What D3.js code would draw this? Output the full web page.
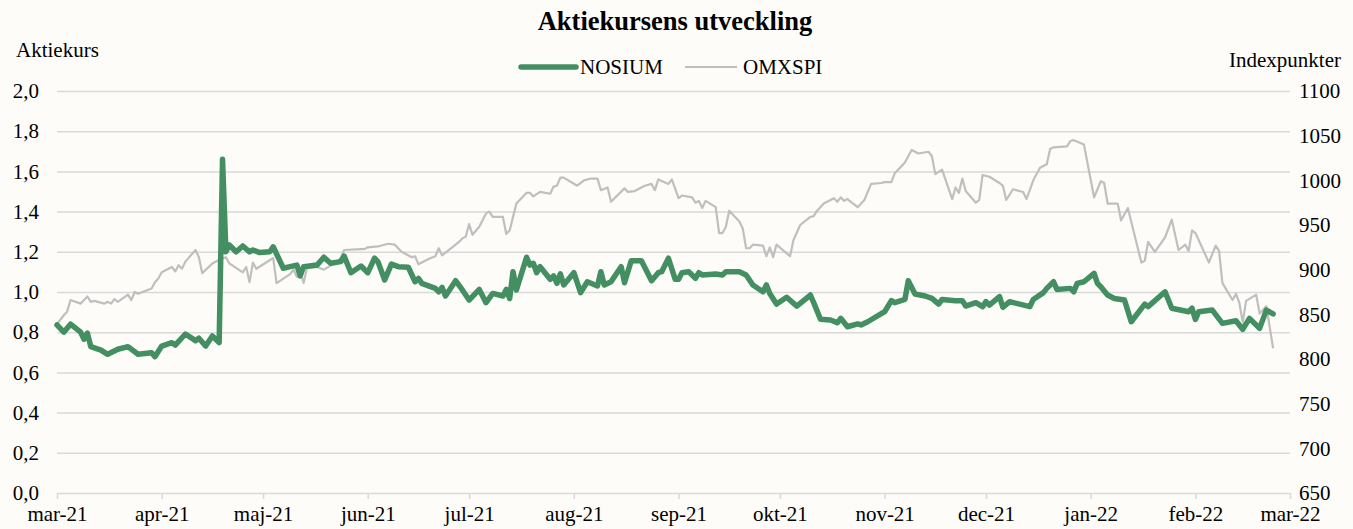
<!DOCTYPE html>
<html>
<head>
<meta charset="utf-8">
<script src="https://cdn.jsdelivr.net/npm/d3@7"></script>
<style>
  body { margin: 0; background: #fdfcf8; }
  svg text { font-family: "Liberation Serif", "Times New Roman", serif; fill: #000; }
</style>
</head>
<body>
<svg id="chart"></svg>
<script>
var svgWidth = 1353, svgHeight = 529;
var plotLeft = 57, plotRight = 1290, plotTop = 91, plotBottom = 493;

// x axis categories (month starts) and their labels
var monthStarts = ['2021-03-01', '2021-04-01', '2021-05-01', '2021-06-01', '2021-07-01', '2021-08-01',
  '2021-09-01', '2021-10-01', '2021-11-01', '2021-12-01', '2022-01-01', '2022-02-01', '2022-03-01'];
var monthLabels = ['mar-21', 'apr-21', 'maj-21', 'jun-21', 'jul-21', 'aug-21', 'sep-21',
  'okt-21', 'nov-21', 'dec-21', 'jan-22', 'feb-22', 'mar-22'];
var leftTicks = [0, 0.2, 0.4, 0.6, 0.8, 1.0, 1.2, 1.4, 1.6, 1.8, 2.0];
var rightTicks = [650, 700, 750, 800, 850, 900, 950, 1000, 1050, 1100];

// NOSIUM share price (left axis)
var nosiumDates = ['2021-03-01','2021-03-03','2021-03-05','2021-03-08','2021-03-09','2021-03-10','2021-03-11',
  '2021-03-14','2021-03-16','2021-03-19','2021-03-22','2021-03-25','2021-03-29','2021-03-30','2021-04-01',
  '2021-04-04','2021-04-05','2021-04-08','2021-04-11','2021-04-12','2021-04-14','2021-04-16','2021-04-18',
  '2021-04-19','2021-04-20','2021-04-21','2021-04-23','2021-04-25','2021-04-27','2021-04-28','2021-04-30',
  '2021-05-03','2021-05-04','2021-05-07','2021-05-09','2021-05-11','2021-05-12','2021-05-13','2021-05-17',
  '2021-05-19','2021-05-21','2021-05-24','2021-05-25','2021-05-27','2021-05-30','2021-06-01','2021-06-03',
  '2021-06-04','2021-06-06','2021-06-08','2021-06-10','2021-06-13','2021-06-15','2021-06-16','2021-06-17',
  '2021-06-21','2021-06-22','2021-06-23','2021-06-24','2021-06-27','2021-06-29','2021-07-01','2021-07-04',
  '2021-07-06','2021-07-08','2021-07-11','2021-07-12','2021-07-13','2021-07-14','2021-07-15','2021-07-18',
  '2021-07-19','2021-07-20','2021-07-21','2021-07-22','2021-07-25','2021-07-26','2021-07-27','2021-07-28',
  '2021-07-29','2021-08-01','2021-08-03','2021-08-05','2021-08-08','2021-08-09','2021-08-10','2021-08-12',
  '2021-08-15','2021-08-16','2021-08-18','2021-08-21','2021-08-24','2021-08-26','2021-08-27','2021-08-29',
  '2021-08-31','2021-09-01','2021-09-02','2021-09-04','2021-09-06','2021-09-07','2021-09-08','2021-09-12',
  '2021-09-14','2021-09-15','2021-09-19','2021-09-21','2021-09-23','2021-09-26','2021-09-27','2021-09-28',
  '2021-09-30','2021-10-03','2021-10-06','2021-10-10','2021-10-11','2021-10-13','2021-10-16','2021-10-18',
  '2021-10-19','2021-10-21','2021-10-24','2021-10-25','2021-10-27','2021-11-01','2021-11-03','2021-11-04',
  '2021-11-07','2021-11-08','2021-11-10','2021-11-13','2021-11-15','2021-11-17','2021-11-18','2021-11-22',
  '2021-11-24','2021-11-25','2021-11-28','2021-11-30','2021-12-01','2021-12-02','2021-12-05','2021-12-06',
  '2021-12-08','2021-12-14','2021-12-15','2021-12-18','2021-12-19','2021-12-21','2021-12-22','2021-12-26',
  '2021-12-27','2021-12-28','2021-12-30','2022-01-02','2022-01-03','2022-01-04','2022-01-06','2022-01-08',
  '2022-01-11','2022-01-13','2022-01-17','2022-01-18','2022-01-23','2022-01-25','2022-01-30','2022-01-31',
  '2022-02-01','2022-02-02','2022-02-06','2022-02-09','2022-02-13','2022-02-15','2022-02-17','2022-02-20',
  '2022-02-22','2022-02-24'];
var nosiumValues = [0.836,0.80,0.84,0.80,0.765,0.795,0.728,
  0.711,0.69,0.715,0.728,0.69,0.698,0.678,0.731,
  0.748,0.736,0.791,0.758,0.77,0.731,0.781,0.748,
  1.66,1.20,1.234,1.20,1.229,1.20,1.209,1.196,
  1.20,1.225,1.118,1.126,1.134,1.08,1.126,1.134,
  1.173,1.143,1.151,1.179,1.096,1.129,1.096,1.168,
  1.151,1.06,1.139,1.126,1.123,1.051,1.068,1.043,
  1.018,1.001,1.023,0.98,1.056,1.01,0.96,1.013,
  0.947,0.993,0.98,1.013,0.968,1.101,1.01,1.173,
  1.134,1.143,1.096,1.126,1.063,1.08,1.043,1.09,
  1.035,1.096,0.997,1.051,1.03,1.101,1.035,1.051,
  1.126,1.046,1.156,1.156,1.056,1.096,1.101,1.168,
  1.063,1.063,1.096,1.101,1.068,1.096,1.085,1.09,
  1.085,1.101,1.101,1.085,1.035,1.001,1.035,0.993,
  0.94,0.974,0.93,0.985,0.947,0.864,0.861,0.847,
  0.869,0.827,0.841,0.836,0.852,0.902,0.957,0.947,
  0.963,1.056,0.99,0.98,0.968,0.94,0.963,0.957,
  0.957,0.93,0.947,0.927,0.952,0.935,0.977,0.924,
  0.952,0.927,0.963,0.997,1.018,1.051,1.013,1.018,
  1.001,1.043,1.051,1.093,1.043,1.026,0.985,0.968,
  0.96,0.852,0.94,0.927,1.001,0.919,0.902,0.919,
  0.864,0.902,0.91,0.844,0.857,0.814,0.869,0.819,
  0.91,0.891];

// OMXSPI index points (right axis)
var omxDates = ['2021-03-01','2021-03-03','2021-03-04','2021-03-05','2021-03-08','2021-03-10','2021-03-11',
  '2021-03-12','2021-03-15','2021-03-16','2021-03-17','2021-03-18','2021-03-19','2021-03-22','2021-03-23',
  '2021-03-24','2021-03-25','2021-03-29','2021-03-30','2021-03-31','2021-04-01','2021-04-04','2021-04-05',
  '2021-04-06','2021-04-07','2021-04-08','2021-04-11','2021-04-12','2021-04-13','2021-04-16','2021-04-18',
  '2021-04-20','2021-04-21','2021-04-25','2021-04-26','2021-04-27','2021-04-28','2021-04-29','2021-05-04',
  '2021-05-05','2021-05-09','2021-05-10','2021-05-11','2021-05-12','2021-05-13','2021-05-14','2021-05-17',
  '2021-05-19','2021-05-23','2021-05-24','2021-05-25','2021-05-30','2021-05-31','2021-06-01','2021-06-04',
  '2021-06-07','2021-06-09','2021-06-11','2021-06-14','2021-06-15','2021-06-16','2021-06-19','2021-06-21',
  '2021-06-22','2021-06-23','2021-06-28','2021-06-29','2021-06-30','2021-07-01','2021-07-02','2021-07-04',
  '2021-07-06','2021-07-07','2021-07-08','2021-07-11','2021-07-12','2021-07-13','2021-07-15','2021-07-18',
  '2021-07-19','2021-07-20','2021-07-22','2021-07-25','2021-07-26','2021-07-27','2021-07-28','2021-07-29',
  '2021-08-02','2021-08-04','2021-08-06','2021-08-08','2021-08-09','2021-08-11','2021-08-12','2021-08-16',
  '2021-08-17','2021-08-19','2021-08-22','2021-08-24','2021-08-25','2021-08-26','2021-08-29','2021-08-30',
  '2021-09-01','2021-09-02','2021-09-05','2021-09-06','2021-09-07','2021-09-08','2021-09-09','2021-09-12',
  '2021-09-13','2021-09-14','2021-09-15','2021-09-16','2021-09-19','2021-09-20','2021-09-21','2021-09-22',
  '2021-09-23','2021-09-26','2021-09-27','2021-09-28','2021-09-29','2021-09-30','2021-10-04','2021-10-05',
  '2021-10-07','2021-10-10','2021-10-11','2021-10-12','2021-10-14','2021-10-17','2021-10-18','2021-10-19',
  '2021-10-20','2021-10-21','2021-10-24','2021-10-26','2021-10-28','2021-10-31','2021-11-01','2021-11-03',
  '2021-11-04','2021-11-07','2021-11-09','2021-11-11','2021-11-14','2021-11-15','2021-11-16','2021-11-18',
  '2021-11-21','2021-11-22','2021-11-23','2021-11-24','2021-11-25','2021-11-28','2021-11-29','2021-11-30',
  '2021-12-02','2021-12-05','2021-12-06','2021-12-07','2021-12-09','2021-12-12','2021-12-13','2021-12-15',
  '2021-12-17','2021-12-19','2021-12-20','2021-12-21','2021-12-25','2021-12-26','2021-12-27','2021-12-30',
  '2022-01-02','2022-01-04','2022-01-05','2022-01-06','2022-01-09','2022-01-10','2022-01-12','2022-01-16',
  '2022-01-17','2022-01-18','2022-01-20','2022-01-23','2022-01-25','2022-01-27','2022-01-29','2022-01-30',
  '2022-01-31','2022-02-01','2022-02-05','2022-02-07','2022-02-08','2022-02-09','2022-02-12','2022-02-13',
  '2022-02-14','2022-02-15','2022-02-16','2022-02-19','2022-02-20','2022-02-22','2022-02-24'];
var omxValues = [839,849,853,866,862,870,864,
  865,862,864,862,867,864,872,866,
  875,873,879,886,890,897,903,898,
  905,901,909,922,914,896,907,911,
  914,907,897,903,886,908,901,913,
  885,895,900,892,898,885,902,903,
  900,909,913,922,923,923,925,926,
  929,928,920,914,915,906,912,915,
  924,916,931,935,937,951,939,948,
  963,965,959,959,940,944,974,986,
  986,982,987,985,993,994,1003,1003,
  994,1000,1002,1002,989,992,976,991,
  987,988,994,996,989,1001,996,1001,
  980,983,981,975,977,969,977,970,
  941,941,948,966,954,946,924,924,
  928,927,915,925,914,928,915,933,
  950,959,960,966,974,980,976,981,
  977,979,970,978,996,997,998,998,
  1008,1020,1034,1030,1032,1027,1007,1012,
  979,992,986,1002,988,975,978,1006,
  1004,997,994,978,990,987,979,1000,
  1014,1018,1035,1037,1038,1044,1045,1040,
  981,999,997,974,974,955,969,908,
  910,931,920,936,956,922,928,921,
  944,941,908,927,921,885,866,873,
  863,841,865,872,851,859,812];

var parseDate = d3.timeParse('%Y-%m-%d');
var nosium = d3.zip(nosiumDates.map(parseDate), nosiumValues);
var omx = d3.zip(omxDates.map(parseDate), omxValues);

var svg = d3.select('#chart').attr('width', svgWidth).attr('height', svgHeight);
svg.append('rect').attr('width', svgWidth).attr('height', svgHeight).attr('fill', '#fdfcf8');

var x = d3.scaleTime()
    .domain([parseDate(monthStarts[0]), parseDate(monthStarts[monthStarts.length - 1])])
    .range([plotLeft, plotRight]);
var yLeft = d3.scaleLinear().domain([0, 2]).range([plotBottom, plotTop]);
var yRight = d3.scaleLinear().domain([650, 1100]).range([plotBottom, plotTop]);

var commaFormat = d3.formatLocale({ decimal: ',', thousands: ' ', grouping: [3], currency: ['', ' kr'] }).format('.1f');

// left axis + gridlines
var leftAxis = svg.append('g')
    .attr('transform', 'translate(' + plotLeft + ',0)')
    .call(d3.axisLeft(yLeft)
      .tickValues(leftTicks)
      .tickSize(-(plotRight - plotLeft))
      .tickPadding(18)
      .tickFormat(commaFormat));
leftAxis.select('.domain').remove();
leftAxis.selectAll('line').attr('stroke', '#d9d9d9').attr('stroke-width', 1.5);
leftAxis.selectAll('text').style('font-size', '21px');

// right axis
var rightAxis = svg.append('g')
    .attr('transform', 'translate(' + plotRight + ',0)')
    .call(d3.axisRight(yRight)
      .tickValues(rightTicks)
      .tickSize(0)
      .tickPadding(9)
      .tickFormat(d3.format('d')));
rightAxis.select('.domain').remove();
rightAxis.selectAll('text').style('font-size', '21px');

// x axis
var xAxis = svg.append('g')
    .attr('transform', 'translate(0,' + plotBottom + ')')
    .call(d3.axisBottom(x)
      .tickValues(monthStarts.map(parseDate))
      .tickSize(6)
      .tickPadding(7)
      .tickFormat(function(d, i) { return monthLabels[i]; }));
xAxis.select('.domain').remove();
xAxis.selectAll('line').attr('stroke', '#d9d9d9').attr('stroke-width', 1.5);
xAxis.selectAll('text').style('font-size', '21px');

// series
var omxLine = d3.line()
    .x(function(d) { return x(d[0]); })
    .y(function(d) { return yRight(d[1]); });
var nosiumLine = d3.line()
    .x(function(d) { return x(d[0]); })
    .y(function(d) { return yLeft(d[1]); });

svg.append('path')
    .datum(omx)
    .attr('d', omxLine)
    .attr('fill', 'none')
    .attr('stroke', '#bfbfbf')
    .attr('stroke-width', 2.2)
    .attr('stroke-linejoin', 'round');

svg.append('path')
    .datum(nosium)
    .attr('d', nosiumLine)
    .attr('fill', 'none')
    .attr('stroke', '#438f62')
    .attr('stroke-width', 5.5)
    .attr('stroke-linejoin', 'round')
    .attr('stroke-linecap', 'round');

// title and axis titles
svg.append('text')
    .attr('x', 675).attr('y', 30)
    .attr('text-anchor', 'middle')
    .style('font-size', '26.5px').style('font-weight', 'bold')
    .text('Aktiekursens utveckling');
svg.append('text')
    .attr('x', 16).attr('y', 57)
    .style('font-size', '21px')
    .text('Aktiekurs');
svg.append('text')
    .attr('x', 1341).attr('y', 67)
    .attr('text-anchor', 'end')
    .style('font-size', '21px')
    .text('Indexpunkter');

// legend
var legend = svg.append('g').attr('class', 'legend');
legend.append('line')
    .attr('x1', 521).attr('x2', 576).attr('y1', 67).attr('y2', 67)
    .attr('stroke', '#438f62').attr('stroke-width', 5.5).attr('stroke-linecap', 'round');
legend.append('text').attr('x', 580).attr('y', 74).style('font-size', '21px').text('NOSIUM');
legend.append('line')
    .attr('x1', 685).attr('x2', 737).attr('y1', 67).attr('y2', 67)
    .attr('stroke', '#bfbfbf').attr('stroke-width', 2.2);
legend.append('text').attr('x', 743).attr('y', 74).style('font-size', '21px').text('OMXSPI');
</script>
</body>
</html>
